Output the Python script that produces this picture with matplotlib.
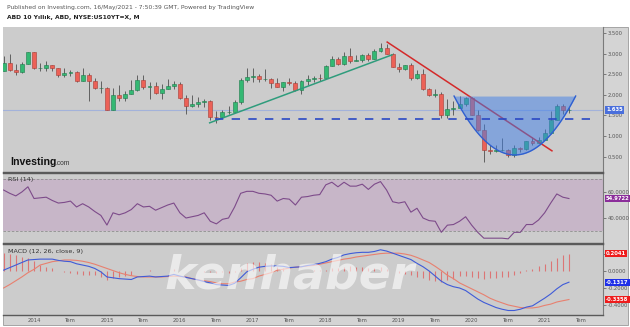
import numpy as np
import matplotlib.pyplot as plt
from matplotlib.patches import Rectangle

# monthly US 10Y yield candles, Aug 2013 .. May 2021
opens = [2.58, 2.78, 2.61, 2.55, 2.74, 3.03, 2.64, 2.65, 2.72, 2.65, 2.47, 2.53,
         2.56, 2.34, 2.49, 2.34, 2.16, 2.17, 1.64, 2.00, 1.92, 2.03, 2.12, 2.35,
         2.18, 2.21, 2.04, 2.14, 2.21, 2.27, 1.92, 1.73, 1.77, 1.83, 1.85, 1.47,
         1.45, 1.58, 1.59, 1.83, 2.37, 2.44, 2.45, 2.39, 2.39, 2.28, 2.20, 2.30,
         2.29, 2.12, 2.33, 2.38, 2.41, 2.40, 2.71, 2.86, 2.74, 2.95, 2.83, 2.85,
         2.96, 2.86, 3.06, 3.14, 2.99, 2.68, 2.63, 2.72, 2.41, 2.50, 2.13, 2.00,
         2.01, 1.50, 1.66, 1.69, 1.78, 1.92, 1.51, 1.15, 0.67, 0.64, 0.65, 0.66,
         0.53, 0.70, 0.68, 0.87, 0.84, 0.91, 1.07, 1.40, 1.74, 1.63]
highs = [2.93, 3.00, 2.75, 2.80, 3.04, 3.04, 2.76, 2.81, 2.73, 2.66, 2.66, 2.61,
         2.58, 2.65, 2.52, 2.42, 2.33, 2.18, 2.17, 2.25, 2.10, 2.36, 2.49, 2.48,
         2.30, 2.30, 2.27, 2.38, 2.34, 2.30, 1.99, 1.99, 1.94, 1.90, 1.87, 1.60,
         1.62, 1.73, 1.87, 2.42, 2.64, 2.64, 2.51, 2.63, 2.41, 2.42, 2.31, 2.40,
         2.33, 2.36, 2.47, 2.45, 2.50, 2.73, 2.95, 2.91, 3.03, 3.13, 2.97, 3.00,
         3.01, 3.10, 3.26, 3.24, 3.02, 2.78, 2.73, 2.76, 2.60, 2.63, 2.17, 2.14,
         2.06, 1.91, 1.85, 1.97, 1.95, 1.94, 1.64, 1.28, 0.78, 0.77, 0.96, 0.69,
         0.78, 0.74, 0.89, 0.98, 0.97, 1.18, 1.61, 1.77, 1.77, 1.70]
lows = [2.57, 2.59, 2.49, 2.53, 2.74, 2.62, 2.58, 2.59, 2.59, 2.43, 2.43, 2.45,
        2.30, 2.33, 1.86, 2.15, 2.05, 1.64, 1.64, 1.85, 1.85, 2.02, 2.09, 2.14,
        1.90, 2.03, 1.90, 2.13, 2.14, 1.91, 1.53, 1.71, 1.70, 1.70, 1.40, 1.32,
        1.44, 1.54, 1.59, 1.77, 2.30, 2.31, 2.31, 2.34, 2.17, 2.18, 2.10, 2.23,
        2.09, 2.03, 2.25, 2.30, 2.33, 2.40, 2.69, 2.73, 2.72, 2.76, 2.82, 2.80,
        2.81, 2.86, 3.05, 2.99, 2.68, 2.55, 2.61, 2.37, 2.39, 2.11, 1.97, 1.95,
        1.44, 1.43, 1.51, 1.69, 1.72, 1.50, 1.12, 0.37, 0.57, 0.60, 0.63, 0.50,
        0.50, 0.62, 0.66, 0.77, 0.82, 0.90, 1.04, 1.38, 1.53, 1.56]
closes = [2.78, 2.61, 2.55, 2.74, 3.03, 2.64, 2.65, 2.72, 2.65, 2.47, 2.53, 2.56,
          2.34, 2.49, 2.34, 2.16, 2.17, 1.64, 2.00, 1.92, 2.03, 2.12, 2.35, 2.18,
          2.21, 2.04, 2.14, 2.21, 2.27, 1.92, 1.73, 1.77, 1.83, 1.85, 1.47, 1.45,
          1.58, 1.59, 1.83, 2.37, 2.44, 2.45, 2.39, 2.39, 2.28, 2.20, 2.30, 2.29,
          2.12, 2.33, 2.38, 2.41, 2.40, 2.71, 2.86, 2.74, 2.95, 2.83, 2.85, 2.96,
          2.86, 3.06, 3.14, 2.99, 2.68, 2.63, 2.72, 2.41, 2.50, 2.13, 2.00, 2.01,
          1.50, 1.66, 1.69, 1.78, 1.92, 1.51, 1.15, 0.67, 0.64, 0.65, 0.66, 0.53,
          0.70, 0.68, 0.87, 0.84, 0.91, 1.07, 1.40, 1.74, 1.63, 1.635]

rsi = [61.5, 59, 57, 60, 64, 55, 55.5, 56, 53.5, 51.5, 52, 53,
       48.5, 51, 48.5, 45, 42, 34.6, 44, 42.5, 44, 46.5, 51, 48.5,
       49, 46, 48, 50, 51.5, 44, 40, 41, 42, 44, 37.5, 35.5,
       39, 40, 48.5, 59, 60.5, 60.5, 59, 58.5, 57.5, 53, 55, 54.5,
       50, 56, 56.5, 57.5, 58, 65.5, 67.5, 64, 67.5, 64.5, 64.5, 66,
       62, 66, 68, 61.5, 52.5, 51.5, 52.5, 44.5, 47.5, 40, 38, 37.5,
       29, 34.5, 35, 37.5, 41, 34.5, 29, 24.5, 24.5, 24.5, 24.5, 24,
       29, 29, 35, 35, 38.5, 44, 51.5, 58.5, 56, 54.9722]

macd = [0.01, 0.04, 0.07, 0.10, 0.13, 0.135, 0.14, 0.14, 0.14, 0.125, 0.115, 0.11,
        0.085, 0.07, 0.055, 0.03, -0.01, -0.07, -0.08, -0.09, -0.095, -0.10, -0.07, -0.065,
        -0.06, -0.07, -0.065, -0.06, -0.04, -0.06, -0.075, -0.09, -0.105, -0.125, -0.14, -0.16,
        -0.165, -0.17, -0.145, -0.08, -0.01, 0.02, 0.045, 0.055, 0.06, 0.06, 0.055, 0.04,
        0.045, 0.05, 0.065, 0.075, 0.09, 0.11, 0.14, 0.16, 0.19, 0.205, 0.215, 0.22,
        0.22, 0.23, 0.25, 0.235, 0.21, 0.185, 0.16, 0.135, 0.09, 0.05, 0.0, -0.06,
        -0.12, -0.16, -0.185, -0.20, -0.23, -0.28, -0.33, -0.37, -0.40, -0.43, -0.45, -0.465,
        -0.465, -0.45, -0.425, -0.41, -0.365, -0.32, -0.27, -0.21, -0.16, -0.1317]
signal = [-0.20, -0.16, -0.115, -0.07, -0.02, 0.02, 0.07, 0.09, 0.11, 0.12, 0.13, 0.13,
          0.125, 0.115, 0.10, 0.08, 0.055, 0.03, 0.005, -0.02, -0.04, -0.055, -0.065, -0.07,
          -0.07, -0.07, -0.07, -0.065, -0.06, -0.065, -0.07, -0.09, -0.105, -0.115, -0.125, -0.14,
          -0.15, -0.15, -0.13, -0.12, -0.10, -0.09, -0.06, -0.04, -0.02, 0.01, 0.02, 0.035,
          0.045, 0.05, 0.06, 0.065, 0.08, 0.095, 0.11, 0.125, 0.14, 0.15, 0.165, 0.175,
          0.185, 0.195, 0.205, 0.21, 0.21, 0.21, 0.20, 0.185, 0.16, 0.13, 0.10, 0.055,
          0.005, -0.05, -0.09, -0.14, -0.175, -0.21, -0.245, -0.28, -0.32, -0.35, -0.375, -0.40,
          -0.415, -0.43, -0.435, -0.435, -0.425, -0.405, -0.39, -0.365, -0.35, -0.3358]

# drawing tools: (month index, yield)
support_line = [(33.9, 1.32), (63.9, 2.97)]
resist_line = [(63.1, 3.28), (90.2, 0.64)]
dash_level, dash_from, dash_to = 1.42, 34.8, 97.8
cup_left, cup_right, cup_top, cup_bottom = 74.1, 94.1, 1.97, 0.54
last_price = 1.635

price_ticks = [0.5, 1.0, 1.5, 2.0, 2.5, 3.0, 3.5]
rsi_ticks = [40, 60]
macd_ticks = [0.2, 0.0, -0.2, -0.4]
years = list(range(2014, 2022))

W, H = 630, 327
BG = '#cccccc'
GREEN, GREEN_EDGE = '#34b873', '#1e7a4b'
RED, RED_EDGE = '#ec6157', '#a63c35'
LABEL_SIZE = 3.8

fig = plt.figure(figsize=(W / 100, H / 100), dpi=100)
fig.patch.set_facecolor('white')


def box(x0, y0, x1, y1):
    return [x0 / W, 1 - y1 / H, (x1 - x0) / W, (y1 - y0) / H]


# light gray frame behind the panels and the price/time scales
frame = Rectangle((3 / W, 1 - 325 / H), 625 / W, 298 / H,
                  transform=fig.transFigure, fc='#d4d4d4',
                  ec='#9a9a9a', lw=0.6, zorder=-10)
fig.add_artist(frame)

ax = fig.add_axes(box(3, 27, 603, 172))
ax_rsi = fig.add_axes(box(3, 173, 603, 243), sharex=ax)
ax_macd = fig.add_axes(box(3, 244, 603, 315), sharex=ax)

for a in (ax, ax_rsi, ax_macd):
    a.set_facecolor(BG)
    a.spines['left'].set_visible(False)
    a.spines['right'].set_color('#7a7a7a')
    a.spines['top'].set_color('#5a5a5a')
    a.spines['bottom'].set_color('#5a5a5a')
    a.spines['top'].set_linewidth(1.0)
    a.spines['bottom'].set_linewidth(1.0)
    a.yaxis.tick_right()
    a.tick_params(axis='y', labelsize=LABEL_SIZE, colors='#555555', length=2,
                  width=0.5, pad=1.2)
    a.tick_params(axis='x', length=0, labelbottom=False)
ax.spines['top'].set_visible(False)

# candles
o = np.array(opens)
c = np.array(closes)
idx = np.arange(len(c))
up = c >= o
ax.vlines(idx, lows, highs, color='#4f4f4f', lw=0.6, zorder=2)
ax.bar(idx[up], (c - o)[up], bottom=o[up], width=0.65, color=GREEN,
       edgecolor=GREEN_EDGE, lw=0.4, zorder=3)
ax.bar(idx[~up], (c - o)[~up], bottom=o[~up], width=0.65, color=RED,
       edgecolor=RED_EDGE, lw=0.4, zorder=3)

ax.axhline(last_price, color='#a3b2da', lw=0.8, zorder=1)

(x0, y0), (x1, y1) = support_line
ax.plot([x0, x1], [y0, y1], color='#2f9c7c', lw=1.1, zorder=4)
(x0, y0), (x1, y1) = resist_line
ax.plot([x0, x1], [y0, y1], color='#d42a2a', lw=1.1, zorder=4)

# cup drawn over the candles
cx = np.linspace(cup_left, cup_right, 80)
mid = (cup_left + cup_right) / 2
half = (cup_right - cup_left) / 2
cy = cup_bottom + (cup_top - cup_bottom) * ((cx - mid) / half) ** 2
ax.fill_between(cx, cy, cup_top, color='#3f7fe8', alpha=0.5, lw=0, zorder=5)
ax.plot(cx, cy, color='#2f5fd0', lw=1.0, zorder=6)

ax.hlines(dash_level, dash_from, dash_to, colors='#2a48c4', lw=1.2,
          linestyles=(0, (5, 5)), zorder=6)

ax.set_ylim(0.126, 3.646)
ax.set_yticks(price_ticks)
ax.set_yticklabels(['%.3f' % t for t in price_ticks])
ax.set_xlim(-0.1, 98.6)

logo_font = ['Liberation Sans', 'DejaVu Sans']
ax.text(0.012, 0.05, 'Investing', transform=ax.transAxes, fontsize=7.6,
        fontweight='bold', color='#111111', va='baseline', family=logo_font)
ax.text(0.087, 0.05, '.com', transform=ax.transAxes, fontsize=4.8,
        color='#333333', va='baseline', family=logo_font)


def value_box(a, y, text, color):
    a.annotate(text, xy=(1.0, y), xycoords=('axes fraction', 'data'),
               xytext=(2.2, 0), textcoords='offset points', ha='left',
               va='center', fontsize=LABEL_SIZE, color='white', fontweight='bold',
               bbox=dict(boxstyle='square,pad=0.22', fc=color, ec='none'),
               annotation_clip=False, zorder=10)


value_box(ax, last_price, '%.3f' % last_price, '#4a6fdc')

# RSI
ax_rsi.axhspan(30, 70, color='#c7b6c8', lw=0, zorder=0)
for lvl in (30, 70):
    ax_rsi.axhline(lvl, color='#8e8e8e', lw=0.6, ls=(0, (3, 2)), zorder=1)
ax_rsi.plot(idx, rsi, color='#7d4b8a', lw=0.8, zorder=3)
ax_rsi.set_ylim(20.8, 74.6)
ax_rsi.set_yticks(rsi_ticks)
ax_rsi.set_yticklabels(['%.4f' % t for t in rsi_ticks])
ax_rsi.text(0.008, 0.9, 'RSI (14)', transform=ax_rsi.transAxes,
            fontsize=4.6, color='#333333', va='center')
value_box(ax_rsi, rsi[-1], '%.4f' % rsi[-1], '#8b2d9a')

# MACD
m = np.array(macd)
s = np.array(signal)
hist = m - s
ax_macd.vlines(idx, 0, hist, color='#e06666', lw=0.8, alpha=0.85, zorder=2)
ax_macd.plot(idx, signal, color='#e8806f', lw=0.8, zorder=3)
ax_macd.plot(idx, macd, color='#3f5bd8', lw=0.8, zorder=3)
ax_macd.set_ylim(-0.518, 0.318)
ax_macd.set_yticks(macd_ticks)
ax_macd.set_yticklabels(['%.4f' % t for t in macd_ticks])
ax_macd.text(0.008, 0.9, 'MACD (12, 26, close, 9)', transform=ax_macd.transAxes,
             fontsize=4.6, color='#333333', va='center')
value_box(ax_macd, hist[-1], '%.4f' % hist[-1], '#ee1c1c')
value_box(ax_macd, macd[-1], '%.4f' % macd[-1], '#1f2fe8')
value_box(ax_macd, signal[-1], '%.4f' % signal[-1], '#ee1c1c')

# time axis: January and July (Temmuz)
ticks, labels = [], []
for y in years:
    ticks += [(y - 2013) * 12 - 7, (y - 2013) * 12 - 1]
    labels += [str(y), 'Tem']
ax_macd.set_xticks(ticks)
ax_macd.set_xticklabels(labels)
ax_macd.tick_params(axis='x', labelbottom=True, labelsize=LABEL_SIZE,
                    colors='#555555', length=0, pad=2.5)

fig.text(7 / W, 1 - 8 / H, 'Published on Investing.com, 16/May/2021 - 7:50:39 GMT, '
         'Powered by TradingView', fontsize=4.3, color='#555555', va='center')
fig.text(7 / W, 1 - 18 / H, 'ABD 10 Yıllık, ABD, NYSE:US10YT=X, M',
         fontsize=4.3, fontweight='bold', color='#222222', va='center')

fig.text(290 / W, 1 - 276 / H, 'kenhaber', fontsize=34, fontstyle='italic',
         fontweight='heavy', color='white', alpha=0.6, ha='center',
         va='center', zorder=20)

fig.savefig('out.png', dpi=100, facecolor=fig.get_facecolor())
